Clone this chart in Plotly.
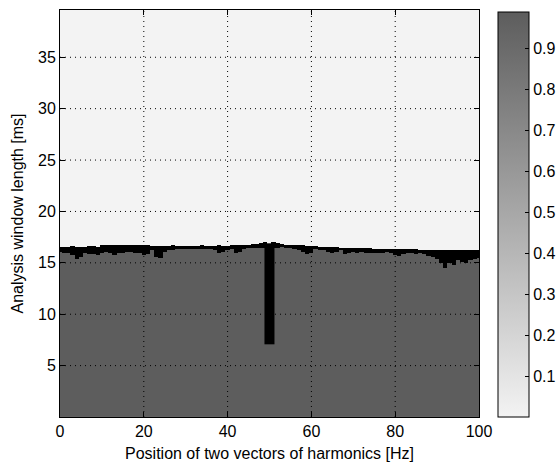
import numpy as np
import plotly.graph_objects as go

# Frequency positions (Hz), 1 Hz resolution
freq_hz = list(range(0, 101))

# Upper edge of the transition band (ms)
top_ms = [
    16.5, 16.55, 16.55, 16.6, 16.55, 16.5, 16.55, 16.6, 16.6, 16.55,
    16.7, 16.7, 16.75, 16.7, 16.75, 16.75, 16.7, 16.7, 16.7, 16.7,
    16.75, 16.7, 16.65, 16.65, 16.65, 16.65, 16.65, 16.7, 16.65, 16.65,
    16.65, 16.65, 16.65, 16.65, 16.7, 16.65, 16.65, 16.65, 16.7, 16.65,
    16.65, 16.7, 16.7, 16.7, 16.7, 16.75, 16.8, 16.85, 16.9, 17.0,
    16.8, 17.0, 16.9, 16.8, 16.75, 16.7, 16.7, 16.7, 16.7, 16.65,
    16.6, 16.6, 16.55, 16.55, 16.5, 16.5, 16.5, 16.45, 16.45, 16.4,
    16.4, 16.4, 16.4, 16.4, 16.4, 16.35, 16.35, 16.35, 16.35, 16.35,
    16.3, 16.3, 16.3, 16.3, 16.3, 16.3, 16.25, 16.25, 16.25, 16.25,
    16.25, 16.2, 16.2, 16.2, 16.2, 16.2, 16.2, 16.2, 16.2, 16.2, 16.2,
]

# Lower edge of the transition band (ms)
bottom_ms = [
    16.1, 16.0, 16.0, 15.8, 15.4, 15.6, 16.0, 15.9, 15.9, 15.8,
    16.0, 16.1, 16.0, 15.8, 16.0, 16.0, 16.1, 16.1, 16.0, 16.0,
    15.8, 15.9, 16.2, 15.6, 15.5, 16.1, 16.2, 16.2, 16.3, 16.3,
    16.3, 16.3, 16.3, 16.3, 16.3, 16.3, 16.3, 16.2, 16.0, 16.1,
    16.2, 16.3, 16.0, 16.1, 16.3, 16.4, 16.4, 16.4, 16.4, 16.4,
    16.4, 16.4, 16.4, 16.5, 16.4, 16.4, 16.3, 16.2, 16.1, 15.9,
    16.0, 16.3, 16.2, 16.2, 16.1, 16.0, 16.1, 16.2, 15.9, 16.0,
    16.1, 16.0, 16.1, 16.0, 16.0, 16.0, 16.0, 16.0, 16.1, 16.0,
    15.8, 15.7, 15.9, 16.0, 16.0, 15.9, 16.0, 15.9, 15.7, 15.6,
    15.4, 15.0, 14.5, 15.0, 14.8, 15.3, 15.1, 15.0, 15.3, 15.4, 15.5,
]

# Vertical black bar near 50 Hz (cell edges)
bar_x_edges = [48.8, 51.1]
bar_y_edges = [7.1, 16.9]

# Window lengths (ms), cell centres
win_ms = [round(0.05 + 0.1 * i, 2) for i in range(397)]

value_low = 0.0
value_high = 0.99

x_ticks = [0, 20, 40, 60, 80, 100]
y_ticks = [5, 10, 15, 20, 25, 30, 35]
cb_ticks = [0.1, 0.2, 0.3, 0.4, 0.5, 0.6, 0.7, 0.8, 0.9]

Y = np.array(win_ms)[:, None]
T = np.array(top_ms)[None, :]
B = np.array(bottom_ms)[None, :]
z_gray = np.where(Y >= T, value_low, value_high)
z_mask = np.where((Y >= B) & (Y < T), 1.0, np.nan)

font = dict(family="Liberation Sans, Arial, sans-serif", size=16, color="#000000")

fig = go.Figure()
fig.add_trace(go.Heatmap(
    x=freq_hz, y=win_ms, z=z_gray,
    zmin=0, zmax=0.99,
    colorscale=[[0, "#f3f3f3"], [1, "#5d5d5d"]],
    colorbar=dict(
        x=1.045, xanchor="left", y=0, yanchor="bottom", len=405 / 407, lenmode="fraction",
        thickness=31, outlinewidth=1, outlinecolor="#000000",
        tickvals=cb_ticks, ticktext=[str(v) for v in cb_ticks],
        ticks="inside", ticklen=4, tickcolor="#000000",
        tickfont=font, xpad=0, ypad=0,
    ),
    hoverinfo="skip",
))
fig.add_trace(go.Heatmap(
    x=freq_hz, y=win_ms, z=z_mask,
    zmin=0, zmax=1,
    colorscale=[[0, "#000000"], [1, "#000000"]],
    showscale=False, hoverinfo="skip",
))
fig.add_trace(go.Heatmap(
    x=bar_x_edges, y=bar_y_edges, z=[[1.0]],
    zmin=0, zmax=1,
    colorscale=[[0, "#000000"], [1, "#000000"]],
    showscale=False, hoverinfo="skip",
))

shapes = []
for xv in x_ticks[1:-1]:
    shapes.append(dict(type="line", xref="x", yref="paper", x0=xv, x1=xv, y0=0, y1=1,
                       line=dict(color="#000000", width=1, dash="1px,4px"), layer="above"))
for yv in y_ticks:
    shapes.append(dict(type="line", xref="paper", yref="y", x0=0, x1=1, y0=yv, y1=yv,
                       line=dict(color="#000000", width=1, dash="1px,4px"), layer="above"))

fig.update_layout(
    width=558, height=464,
    margin=dict(l=60, r=79, t=10, b=47, autoexpand=False),
    paper_bgcolor="#ffffff", plot_bgcolor="#ffffff",
    font=font,
    shapes=shapes,
    xaxis=dict(
        range=[0, 100], tickvals=x_ticks, ticks="inside", ticklen=5, tickcolor="#000000",
        showline=True, linecolor="#000000", linewidth=1, mirror="ticks",
        showgrid=False, zeroline=False, layer="above traces",
        title=dict(text="Position of two vectors of harmonics [Hz]", font=font, standoff=8),
        tickfont=font,
    ),
    yaxis=dict(
        range=[0, 39.6], tickvals=y_ticks, ticks="inside", ticklen=5, tickcolor="#000000",
        showline=True, linecolor="#000000", linewidth=1, mirror="ticks",
        showgrid=False, zeroline=False, layer="above traces",
        title=dict(text="Analysis window length [ms]", font=font, standoff=10),
        tickfont=font,
    ),
)

fig.write_html("out.html")
